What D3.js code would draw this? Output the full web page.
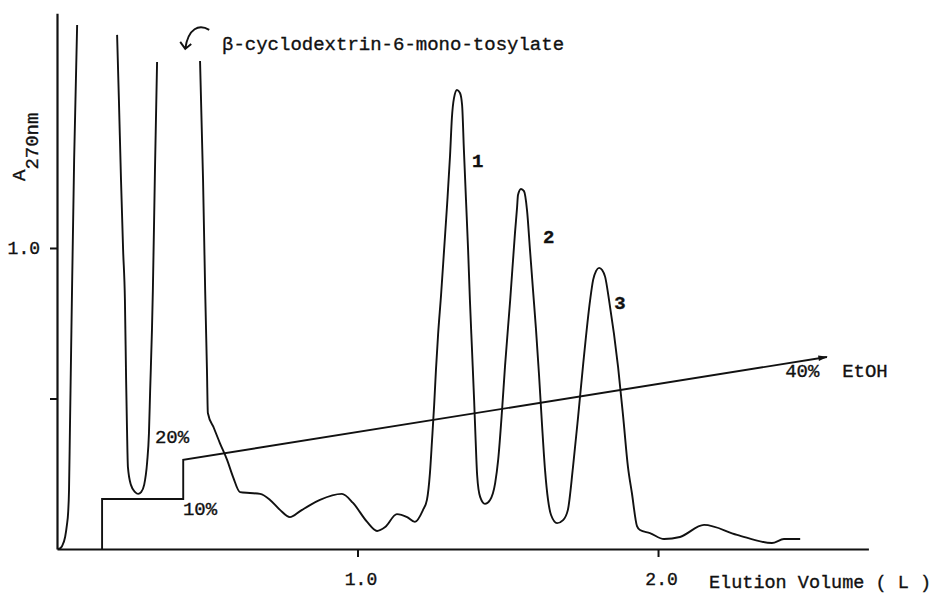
<!DOCTYPE html>
<html>
<head>
<meta charset="utf-8">
<script src="https://cdn.jsdelivr.net/npm/d3@7"></script>
<style>
body { margin: 0; background: #fff; }
text { font-family: "Liberation Mono", "DejaVu Sans Mono", monospace; fill: #111; stroke: #111; stroke-width: 0.35px; }
</style>
</head>
<body>
<script>
// elution volume (L) against A270.
// the pen went off the top three times, so the trace comes in three pieces
var vol1 = [0.003,0.010,0.017,0.027,0.033,0.037,0.040,0.043,0.047,0.050,0.057,0.067];
var abs1 = [0,0.002,0.010,0.040,0.080,0.120,0.196,0.395,0.661,0.860,1.292,1.741];

var vol2 = [0.200,0.206,0.213,0.220,0.226,0.230,0.233,0.236,0.246,0.260,0.270,0.280,0.290,0.300,0.306,0.310,0.316,0.319,0.326,0.333];
var abs2 = [1.708,1.492,1.226,0.993,0.827,0.561,0.395,0.272,0.213,0.189,0.183,0.189,0.213,0.289,0.385,0.528,0.728,0.860,1.259,1.618];

var vol3 = [0.476,0.486,0.493,0.499,0.502,0.522,0.542,0.566,0.586,0.609,0.642,0.676,0.709,0.742,0.775,0.809,0.842,0.875,0.948,0.985,
    1.032,1.065,1.092,1.131,1.165,1.191,1.218,1.231,1.241,1.248,1.255,1.261,1.268,1.278,1.288,1.298,1.308,1.314,1.321,1.331,
    1.341,1.348,1.354,1.361,1.368,1.374,1.381,1.388,1.393,1.398,1.408,1.424,1.441,1.458,1.468,1.481,1.491,1.508,1.524,1.531,
    1.534,1.544,1.554,1.564,1.574,1.584,1.594,1.604,1.614,1.624,1.634,1.644,1.664,1.684,1.700,1.717,1.734,1.750,1.774,1.784,
    1.794,1.804,1.814,1.824,1.837,1.867,1.884,1.900,1.913,1.930,1.940,1.973,2.020,2.073,2.153,2.263,2.379,2.419,2.473];
var abs3 = [1.621,1.226,0.860,0.595,0.452,0.402,0.352,0.296,0.239,0.189,0.186,0.183,0.163,0.130,0.106,0.126,0.146,0.163,0.183,0.153,
    0.090,0.060,0.073,0.116,0.106,0.090,0.130,0.163,0.252,0.362,0.478,0.595,0.711,0.844,0.993,1.143,1.309,1.432,1.498,1.525,
    1.515,1.475,1.326,1.159,0.993,0.827,0.661,0.495,0.362,0.246,0.173,0.150,0.163,0.219,0.296,0.462,0.610,0.827,1.050,1.136,
    1.176,1.196,1.189,1.126,0.993,0.860,0.728,0.578,0.412,0.262,0.163,0.113,0.086,0.096,0.130,0.272,0.439,0.605,0.827,0.894,
    0.924,0.934,0.927,0.904,0.827,0.605,0.439,0.272,0.186,0.076,0.063,0.053,0.033,0.040,0.080,0.047,0.020,0.033,0.033];

// ethanol step gradient drawn on the same paper (10% -> 20% -> 40%)
var gradVol = [0.150,0.150,0.420,0.420,2.562];
var gradLevel = [0,0.166,0.166,0.296,0.638];

var xTicks = [1.0, 2.0];
var yTicks = [0.5, 1.0];
var peakNames = ["1","2","3"];

var W = 947, H = 594;

var svg = d3.select("body").append("svg")
    .attr("width", W)
    .attr("height", H);

var x = d3.scaleLinear().domain([0, 2.7]).range([57, 868.4]);
var y = d3.scaleLinear().domain([0, 1.78]).range([549, 13.2]);

var line = d3.line()
    .x(function(d){ return x(d[0]); })
    .y(function(d){ return y(d[1]); })
    .curve(d3.curveMonotoneX);

var pieces = [d3.zip(vol1, abs1), d3.zip(vol2, abs2), d3.zip(vol3, abs3)];

svg.selectAll("path.trace")
    .data(pieces)
    .enter()
    .append("path")
    .attr("class", "trace")
    .attr("d", line)
    .attr("fill", "none")
    .attr("stroke", "#111")
    .attr("stroke-width", 1.9)
    .attr("stroke-linejoin", "round");

// gradient line with a small arrow at its end
svg.append("defs").append("marker")
    .attr("id", "arr")
    .attr("viewBox", "0 0 10 10")
    .attr("refX", 9).attr("refY", 5)
    .attr("markerWidth", 7).attr("markerHeight", 5)
    .attr("orient", "auto")
    .append("path")
    .attr("d", "M0,2L10,5L0,8z")
    .attr("fill", "#111");

svg.append("path")
    .datum(d3.zip(gradVol, gradLevel))
    .attr("d", d3.line().x(function(d){ return x(d[0]); }).y(function(d){ return y(d[1]); }))
    .attr("fill", "none")
    .attr("stroke", "#111")
    .attr("stroke-width", 1.9)
    .attr("marker-end", "url(#arr)");

// axes
var xAxis = svg.append("g")
    .attr("transform", "translate(0," + y(0) + ")")
    .call(d3.axisBottom(x).tickValues(xTicks).tickSize(8).tickSizeOuter(0).tickPadding(15)
        .tickFormat(d3.format(".1f")));

var yAxis = svg.append("g")
    .attr("transform", "translate(" + x(0) + ",0)")
    .call(d3.axisLeft(y).tickValues(yTicks).tickSize(7).tickSizeOuter(0).tickPadding(10)
        .tickFormat(function(d){ return d === 1 ? "1.0" : ""; }));

svg.selectAll(".domain").attr("stroke", "#111").attr("stroke-width", 2.2);
svg.selectAll(".tick line").attr("stroke", "#111").attr("stroke-width", 2);
svg.selectAll(".tick text")
    .attr("font-family", "Liberation Mono, monospace")
    .attr("font-size", 18)
    .attr("fill", "#111");
xAxis.selectAll(".tick text").attr("dx", 3);

svg.append("text")
    .attr("x", 709).attr("y", 588)
    .attr("font-size", 18.5)
    .style("white-space", "pre")
    .text("Elution Volume ( L )");

// y label, A with 270nm set below it
var yl = svg.append("text")
    .attr("transform", "translate(25,181) rotate(-90)")
    .attr("font-size", 19);
yl.append("tspan").text("A");
yl.append("tspan").attr("dy", 13).text("270nm");

// peak numbers
var peakPos = [[1.381, 1.269], [1.617, 1.017], [1.854, 0.797]];
svg.selectAll("text.peak")
    .data(peakNames)
    .enter()
    .append("text")
    .attr("class", "peak")
    .attr("x", function(d,i){ return x(peakPos[i][0]); })
    .attr("y", function(d,i){ return y(peakPos[i][1]); })
    .attr("font-size", 19)
    .attr("font-weight", "bold")
    .text(function(d){ return d; });

// gradient notes
var notes = [["20%", 0.326, 0.352], ["10%", 0.419, 0.113], ["40%  EtOH", 2.423, 0.571]];
svg.selectAll("text.note")
    .data(notes)
    .enter()
    .append("text")
    .attr("class", "note")
    .attr("x", function(d){ return x(d[1]); })
    .attr("y", function(d){ return y(d[2]); })
    .attr("font-size", 19)
    .style("white-space", "pre")
    .text(function(d){ return d[0]; });

// tosylate marker with a curled arrow
svg.append("text")
    .attr("x", x(0.549)).attr("y", y(1.658))
    .attr("font-size", 19)
    .text("β-cyclodextrin-6-mono-tosylate");

var ax = x(0.43), ay = y(1.658);
svg.append("path")
    .attr("d", "M" + (ax + 23) + "," + (ay - 20) + " C" + (ax + 13) + "," + (ay - 26) + " " + (ax + 2) + "," + (ay - 22) + " " + (ax - 1) + "," + (ay - 1)
        + " M" + (ax - 6) + "," + (ay - 8) + " L" + (ax - 1) + "," + (ay - 1) + " L" + (ax + 5) + "," + (ay - 6))
    .attr("fill", "none")
    .attr("stroke", "#111")
    .attr("stroke-width", 1.9);
</script>
</body>
</html>
